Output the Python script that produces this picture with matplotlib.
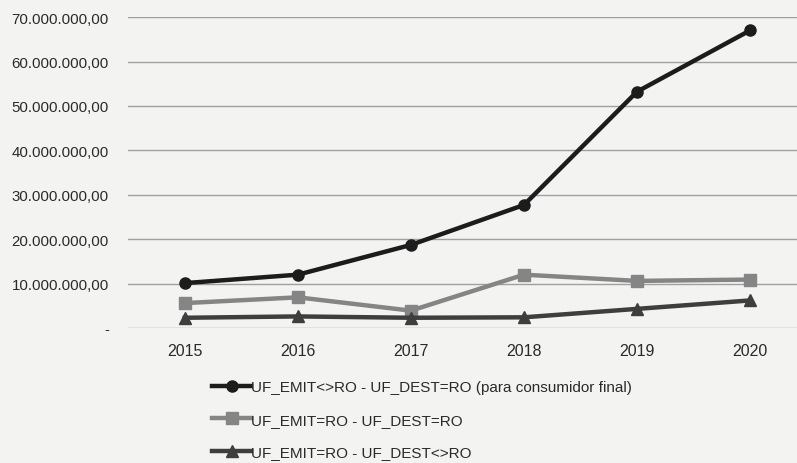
import matplotlib
matplotlib.use('Agg')
import matplotlib.pyplot as plt
from matplotlib.ticker import FuncFormatter

# ---------------------- 数据 ----------------------
anos = ['2015', '2016', '2017', '2018', '2019', '2020']
emit_fora_dest_ro = [10.1e6, 12.0e6, 18.7e6, 27.7e6, 53.2e6, 67.0e6]
emit_ro_dest_ro = [5.6e6, 6.9e6, 3.9e6, 12.0e6, 10.6e6, 10.9e6]
emit_ro_dest_fora = [2.3e6, 2.6e6, 2.3e6, 2.4e6, 4.3e6, 6.2e6]
y_ticks = [0, 10e6, 20e6, 30e6, 40e6, 50e6, 60e6, 70e6]

series = [
    ('UF_EMIT<>RO - UF_DEST=RO (para consumidor final)', emit_fora_dest_ro, '#1c1c1c', 'o'),
    ('UF_EMIT=RO - UF_DEST=RO', emit_ro_dest_ro, '#858585', 's'),
    ('UF_EMIT=RO - UF_DEST<>RO', emit_ro_dest_fora, '#3e3e3e', '^'),
]

plt.rcParams['font.family'] = ['Liberation Sans', 'DejaVu Sans']


def fmt_br(v, pos):
    # formato brasileiro: 10.000.000,00
    if abs(v) < 1:
        return '-'
    s = f'{v:,.2f}'
    return s.replace(',', 'X').replace('.', ',').replace('X', '.')


fig = plt.figure(figsize=(7.97, 4.64), dpi=100)
fig.patch.set_facecolor('#f3f3f1')
ax = fig.add_axes([0.161, 0.291, 0.851, 0.670])
ax.set_facecolor('#f3f3f1')

x = list(range(len(anos)))
for nome, vals, cor, mk in series:
    ax.plot(x, vals, color=cor, lw=3.2, marker=mk, ms=8, label=nome, zorder=3)

ax.set_xlim(-0.5, len(anos) - 0.5)
ax.set_ylim(0, 70e6)
ax.set_yticks(y_ticks)
ax.yaxis.set_major_formatter(FuncFormatter(fmt_br))
ax.set_xticks(x)
ax.set_xticklabels(anos)
ax.grid(True, axis='y', color='#a0a0a0', lw=1.0)
ax.set_axisbelow(True)
for sp in ax.spines.values():
    sp.set_visible(False)
ax.tick_params(axis='both', length=0, colors='#2a2a2a')
ax.tick_params(axis='y', pad=14, labelsize=10.8)
ax.tick_params(axis='x', pad=11, labelsize=11.5)

fig.legend(loc='upper left', bbox_to_anchor=(0.258, 0.191), frameon=False,
           fontsize=11, labelspacing=1.2, handlelength=2.6, handletextpad=0.0,
           borderaxespad=0, labelcolor='#2a2a2a')

fig.savefig('out.png', dpi=100, facecolor=fig.get_facecolor())
